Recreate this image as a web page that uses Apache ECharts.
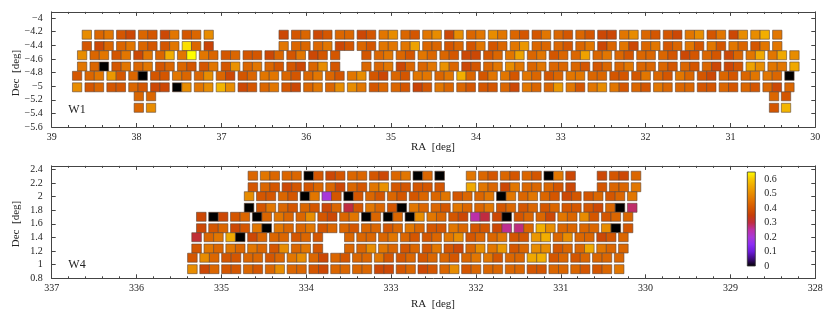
<!DOCTYPE html>
<html><head><meta charset="utf-8">
<script src="https://cdn.jsdelivr.net/npm/echarts@6.0.0/dist/echarts.min.js"></script>
<style>html,body{margin:0;padding:0;background:#fff}#c{width:830px;height:313px}</style>
</head><body><div id="c"></div>
<script>
// ================= DATA =================
// W1 field: 6 long rows (values listed pair by pair, left tile then right tile; null = no tile)
const w1Dec = [-4.2451, -4.4110, -4.5460, -4.7119, -4.8484, -5.0172];
const w1Ra0 = [38.6962, 38.6962, 38.7516, 38.7516, 38.8106, 38.8106]; // RA of first (left) tile centre
const w1Row1 = [null,.50, .43,.46, .40,.37, .43,.40, .37,.46, .40,.43, .50,null, null,null, null,null, null,.37, .40,.43, .37,.40, .43,.43, .37,.40, .46,.50, .43,.40, .46,.50, .37,.50, .43,.46, .50,.46, .43,.40, .40,.46, .43,.40, .43,.40, .37,.37, .46,.50, .43,.40, .40,.37, .46,.50, .40,.46, .37,.50, .50,.56, .46,null];
const w1Row2 = [null,.40, .37,.43, .43,.46, .43,.40, .40,.46, .62,.43, .36,null, null,null, null,null, null,.46, .43,.43, .43,.46, .37,.40, .43,.40, .46,.46, .46,.54, .43,.43, .40,.43, .40,.46, .40,.43, .46,.52, .43,.43, .43,.40, .43,.46, .37,.43, .46,.37, .43,.46, .40,.43, .46,.40, .46,.40, .46,.43, .40,.46, .46,null];
const w1Row3 = [null,.50, .43,.46, .40,.46, .37,.46, .43,.56, .46,.65, .46,.43, .40,.43, .40,.40, .37,.43, .40,.46, .37,.40, .40,null, null,.40, .43,.46, .43,.40, .46,.43, .43,.40, .37,.37, .40,.43, .46,.54, .43,.46, .40,.43, .43,.54, .43,.46, .43,.40, .43,.43, .43,.40, .37,.40, .43,.40, .37,.43, .46,.55, .46,.55, .50,null];
const w1Row4 = [null,.46, .43,0, .40,.46, .43,.46, .40,.43, .43,.40, .40,.46, .40,.51, .43,.46, .43,.40, .40,.37, .43,.50, .40,null, null,.43, .43,.46, .37,.43, .43,.46, .51,.43, .37,.40, .43,.46, .50,.46, .43,.46, .43,.43, .43,.40, .40,.43, .43,.46, .43,.43, .43,.40, .43,.40, .43,.37, .37,.40, .54,.50, .46,.46, .55,null];
const w1Row5 = [null,.40, .43,.46, .52,.40, .43,0, .40,.40, .46,.43, .43,.50, .43,.37, .40,.43, .46,.46, .43,.40, .43,.46, .43,.40, .46,.50, .40,.37, .43,.40, .46,.46, .43,.46, .56,.43, .40,.46, .46,.40, .46,.43, .40,.43, .46,.46, .43,.43, .40,.40, .40,.46, .43,.40, .46,.43, .40,.37, .43,.40, .43,.46, .46,.43, 0,null];
const w1Row6 = [null,.50, .40,.43, .40,.40, .43,.40, .37,.37, 0,.50, .46,.50, .57,.50, .37,.40, .43,.46, .40,.37, .43,.46, .43,.50, .50,.46, .40,.43, .43,.40, .36,.40, .46,.43, .43,.40, .40,.40, .43,.37, .46,.43, .43,.52, .46,.40, .46,.50, .46,.40, .43,.40, .46,.43, .43,.43, .40,.40, .43,.40, .43,.40, .43,.37, .43,null];
// W1 isolated tiles below the main block
const w1ExtraRa  = [37.9735, 37.8292, 30.4864, 30.3450, 37.9735, 37.8292, 30.4864, 30.3450];
const w1ExtraDec = [-5.1493, -5.1493, -5.1493, -5.1493, -5.3181, -5.3181, -5.3181, -5.3181];
const w1ExtraVal = [.43, .43, .43, .40, .43, .50, .40, .57];

// W4 field: 10 rows
const w4Dec = [2.306, 2.137, 2.005, 1.835, 1.703, 1.535, 1.403, 1.237, 1.102, 0.934];
const w4Ra0 = [334.7419, 334.7419, 334.7867, 334.7867, 335.3500, 335.3500, 335.4054, 335.4054, 335.4549, 335.4549];
const w4Row1  = [null,.43, .46,.43, .43,.43, 0,.40, .37,.40, .43,.43, .40,.37, .43,.46, 0,.43, 0,null, null,.46, .43,.40, .43,.40, .43,.40, 0,.46, .37,null, null,.37, .40,.37, .43,null];
const w4Row2  = [null,.40, .43,.40, .37,.40, .40,.43, .43,.37, .43,.40, .46,.51, .40,.40, .40,.40, .40,null, null,.55, .46,.43, .37,.46, .43,.43, .43,.40, .37,null, null,.40, .43,.43, .46,null];
const w4Row3  = [null,.50, .40,.40, .43,.40, 0,.46, .20,.40, 0,.40, .43,.40, .43,.40, .40,.43, .43,.46, .40,.43, .43,.46, 0,.46, .43,.46, .43,.40, .37,.40, .40,.43, .40,.43, .46,null];
const w4Row4  = [null,0, .40,.46, .43,.40, .43,.40, .37,.43, .30,.40, .46,.43, .40,0, .46,.43, .43,.40, .46,.43, .43,.46, .40,.43, .40,.43, .40,.43, .40,.40, .40,.37, .43,0, .28,null];
const w4Row5  = [null,.37, 0,.37, .40,.43, 0,.43, .46,.43, .43,.50, .40,.37, .43,.46, 0,.43, 0,.43, 0,.50, .46,.43, .40,.37, .25,.30, .37,0, .40,.43, .43,.37, .46,.43, .50,.40, .40,.43, .43,null];
const w4Row6  = [null,.37, .40,.43, .37,.40, .46,0, .46,.43, .43,.46, .40,.43, .43,.40, .43,.43, .40,.43, .46,.43, .40,.40, .46,.43, .40,.40, .37,.26, .27,.43, .56,.50, .43,.43, .43,.43, .50,0, .40,null];
const w4Row7  = [null,.31, .43,.46, .55,0, .37,.43, .43,.43, .40,.43, .40,null, null,.43, .43,.43, .43,.46, .43,.40, .40,.43, .46,.50, .40,.43, .43,.46, .40,.40, .52,.56, .43,.50, .43,.43, .37,.40, .43,null];
const w4Row8  = [null,.40, .46,.43, .46,.43, .46,.43, .40,.50, .43,.46, .40,null, null,.43, .43,.50, .46,.43, .40,.43, .40,.46, .40,.37, .43,.50, .46,.52, .40,.43, .50,.50, .40,.43, .43,.55, .46,.43, .43,null];
const w4Row9  = [null,.40, .50,.43, .40,.40, .43,.43, .40,.43, .46,.50, .43,.37, .43,.40, .43,.43, .46,.40, .40,.43, .40,.43, .43,.40, .43,.46, .46,.40, .43,.43, .55,.56, .40,.43, .40,.43, .43,.43, .43,null];
const w4Row10 = [null,.50, .37,.43, .40,.40, .43,.40, .43,.50, .43,.43, .40,.37, .43,.43, .43,.43, .37,.37, .40,.43, .37,.40, .43,.50, .40,.43, .43,.43, .43,.43, .40,.40, .43,.43, .43,.40, .40,.43, .46,null];

// colour scale (value 0 .. 0.65 in steps of 0.05) and colour-bar tick labels
const paletteValues = [0, .05, .10, .15, .20, .25, .30, .35, .40, .45, .50, .55, .60, .65];
const paletteColors = ['#000000','#3c0a78','#6a1ad8','#8c2cf4','#a838d8','#bc30a8','#c02c40','#c63e08','#d45600','#e07000','#e88c00','#f0a800','#f8c800','#ffff00'];
const cbarTicks = [0, 0.1, 0.2, 0.3, 0.4, 0.5, 0.6];

// ================= LAYOUT =================
const W1_PITCH = 0.25775, W1_TILE = 0.1102;
const W4_PITCH = 0.25716, W4_TILE = 0.1131;
const TILE_H = 0.132;
const FONT = '"Liberation Serif","DejaVu Serif",serif';
const AX = '#444';

function buildRows(rows, ra0s, decs, pitch, tileW) {
  const out = [];
  rows.forEach((vals, r) => {
    vals.forEach((v, i) => {
      if (v === null) return;
      const k = Math.floor(i / 2), side = i % 2;
      out.push([ra0s[r] - k * pitch - side * tileW, decs[r], v, tileW]);
    });
  });
  return out;
}
const w1Data = buildRows([w1Row1, w1Row2, w1Row3, w1Row4, w1Row5, w1Row6], w1Ra0, w1Dec, W1_PITCH, W1_TILE);
w1ExtraRa.forEach((ra, i) => w1Data.push([ra, w1ExtraDec[i], w1ExtraVal[i], W1_TILE]));
const w4Data = buildRows([w4Row1, w4Row2, w4Row3, w4Row4, w4Row5, w4Row6, w4Row7, w4Row8, w4Row9, w4Row10], w4Ra0, w4Dec, W4_PITCH, W4_TILE);

function tile(params, api) {
  const ra = api.value(0), dec = api.value(1), w = api.value(3);
  const a = api.coord([ra + w / 2, dec + TILE_H / 2]);
  const b = api.coord([ra - w / 2, dec - TILE_H / 2]);
  return {
    type: 'rect',
    shape: { x: Math.min(a[0], b[0]), y: Math.min(a[1], b[1]), width: Math.abs(b[0] - a[0]), height: Math.abs(b[1] - a[1]) },
    style: { fill: api.visual('color'), stroke: 'rgba(95,70,55,0.6)', lineWidth: 1 }
  };
}
function cbar(params, api) {
  const top = paletteValues[paletteValues.length - 1];
  const a = api.coord([0, top]);
  const b = api.coord([1, 0]);
  const stops = paletteColors.map((c, i) => ({ offset: 1 - paletteValues[i] / top, color: c }));
  return {
    type: 'rect',
    shape: { x: a[0], y: a[1], width: b[0] - a[0], height: b[1] - a[1] },
    style: { fill: new echarts.graphic.LinearGradient(0, 0, 0, 1, stops), stroke: '#333', lineWidth: 0.8 }
  };
}

const lbl = { fontFamily: FONT, fontSize: 10, color: '#222' };
function fmt(v) {
  if (Math.abs(Math.round(v * 5) - v * 5) > 1e-6) return '';
  const s = String(Math.round(v * 10) / 10);
  return s.replace('-', '\u2212');
}
function xAxes(grid, min, max) {
  const base = {
    gridIndex: grid, type: 'value', min: min, max: max, interval: 1, inverse: true,
    axisLine: { show: true, onZero: false, lineStyle: { color: AX, width: 1 } },
    axisTick: { show: true, inside: true, length: 4, lineStyle: { color: AX } },
    minorTick: { show: true, splitNumber: 5, length: 2, lineStyle: { color: AX } },
    splitLine: { show: false }
  };
  return [
    Object.assign({}, base, { position: 'bottom', axisLabel: Object.assign({ margin: 5 }, lbl) }),
    Object.assign({}, base, { position: 'top', axisLabel: { show: false } })
  ];
}
function yAxes(grid, min, max) {
  const base = {
    gridIndex: grid, type: 'value', min: min, max: max, interval: 0.2,
    axisLine: { show: true, onZero: false, lineStyle: { color: AX, width: 1 } },
    axisTick: { show: true, inside: true, length: 4, lineStyle: { color: AX } },
    splitLine: { show: false }
  };
  return [
    Object.assign({}, base, { position: 'left', axisLabel: Object.assign({ margin: 9, formatter: fmt }, lbl) }),
    Object.assign({}, base, { position: 'right', axisLabel: { show: false } })
  ];
}

const chart = echarts.init(document.getElementById('c'), null, { renderer: 'canvas' });
chart.setOption({
  animation: false,
  backgroundColor: '#fff',
  grid: [
    { left: 51.7, top: 11.9, width: 763.6, height: 115.1, outerBoundsMode: 'none' },
    { left: 51.7, top: 165.9, width: 763.6, height: 112.4, outerBoundsMode: 'none' },
    { left: 747.3, top: 172, width: 8, height: 94, outerBoundsMode: 'none' }
  ],
  xAxis: [].concat(xAxes(0, 30, 39), xAxes(1, 328, 337), [{ gridIndex: 2, type: 'value', min: 0, max: 1, show: false }]),
  yAxis: [].concat(yAxes(0, -5.6, -3.91), yAxes(1, 0.8, 2.45), [{
    gridIndex: 2, type: 'value', min: 0, max: 0.65, interval: 0.1, position: 'right',
    axisLine: { show: false }, axisTick: { show: false }, splitLine: { show: false },
    axisLabel: Object.assign({ margin: 9, formatter: v => (cbarTicks.some(t => Math.abs(t - v) < 1e-6) ? String(Math.round(v * 10) / 10) : '') }, lbl)
  }]),
  visualMap: {
    type: 'continuous', show: false, min: 0, max: 0.65, dimension: 2, seriesIndex: [0, 1],
    inRange: { color: paletteColors }
  },
  series: [
    { type: 'custom', name: 'W1', xAxisIndex: 0, yAxisIndex: 0, coordinateSystem: 'cartesian2d', renderItem: tile, data: w1Data, encode: { x: 0, y: 1 }, clip: true },
    { type: 'custom', name: 'W4', xAxisIndex: 2, yAxisIndex: 2, coordinateSystem: 'cartesian2d', renderItem: tile, data: w4Data, encode: { x: 0, y: 1 }, clip: true },
    { type: 'custom', name: 'cbar', xAxisIndex: 4, yAxisIndex: 4, coordinateSystem: 'cartesian2d', renderItem: cbar, data: [[0.5, 0.3]], silent: true }
  ],
  graphic: [
    { type: 'text', x: 77, y: 110, style: { text: 'W1', font: '12px ' + FONT, fill: '#222', align: 'center', verticalAlign: 'middle' } },
    { type: 'text', x: 77, y: 265, style: { text: 'W4', font: '12px ' + FONT, fill: '#222', align: 'center', verticalAlign: 'middle' } },
    { type: 'text', x: 16, y: 73, rotation: Math.PI / 2, style: { text: 'Dec  [deg]', font: '11px ' + FONT, fill: '#222', align: 'center', verticalAlign: 'middle' } },
    { type: 'text', x: 16, y: 224, rotation: Math.PI / 2, style: { text: 'Dec  [deg]', font: '11px ' + FONT, fill: '#222', align: 'center', verticalAlign: 'middle' } },
    { type: 'text', x: 433, y: 147.5, style: { text: 'RA  [deg]', font: '11px ' + FONT, fill: '#222', align: 'center', verticalAlign: 'middle' } },
    { type: 'text', x: 433, y: 304, style: { text: 'RA  [deg]', font: '11px ' + FONT, fill: '#222', align: 'center', verticalAlign: 'middle' } }
  ]
});
</script>
</body></html>
